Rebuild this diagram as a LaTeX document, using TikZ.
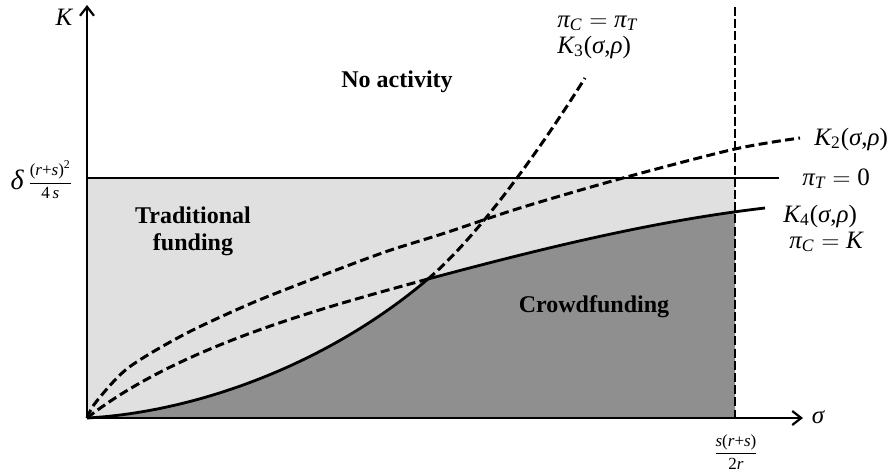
\documentclass[tikz,border=0pt]{standalone}
\usepackage{amsmath}
\usepackage{fontspec}
\setmainfont{Liberation Serif}
\usetikzlibrary{arrows.meta}
\definecolor{lightfill}{RGB}{224,224,224}
\definecolor{darkfill}{RGB}{143,143,143}
\newcommand\ti[1]{\text{\itshape #1}}
\newcommand\tu[1]{\text{\upshape #1}}
\begin{document}
\begin{tikzpicture}[x=0.5pt,y=-0.5pt,
  axisline/.style={line width=1pt,-{Straight Barb[length=4.5pt,width=7pt,line width=1.1pt]}},
  curvedash/.style={line width=1.5pt,dash pattern=on 4.5pt off 2.2pt},
  vdash/.style={line width=1.1pt,dash pattern=on 4.5pt off 1.6pt},
  solidcurve/.style={line width=1.4pt},
  thinline/.style={line width=1pt},
  region/.style={font=\fontsize{12}{13.5}\selectfont\bfseries,align=center,inner sep=0pt},
  mathlab/.style={font=\fontsize{12.5}{15}\selectfont,inner sep=0pt},
  fraclab/.style={font=\fontsize{8.5}{10}\selectfont,inner sep=0pt}]
\useasboundingbox (0,0) rectangle (893,471);
% key points
\coordinate (O) at (87,418);
\coordinate (Ytop) at (87,5);
\coordinate (Xend) at (803,418);
\coordinate (Vtop) at (735,7);
\coordinate (Vbot) at (735,418);
\coordinate (Kink) at (428,279);
\coordinate (K3end) at (585,78);
\coordinate (K4end) at (765,208);
\coordinate (PiL) at (87,178);
\coordinate (PiR) at (779,178);
% light region
\fill[lightfill] (PiL) rectangle (Vbot);
% dark region
\begin{scope}
  \clip (0,0) rectangle (735,471);
  \fill[darkfill] (O) .. controls (197,412) and (328,364) .. (Kink)
     .. controls (540,249) and (653,221) .. (K4end) -- (765,418) -- cycle;
\end{scope}
% pi_T = 0 line
\draw[thinline] (PiL) -- (PiR);
% K3 convex curve: solid to kink, dashed after
\draw[solidcurve] (O) .. controls (197,412) and (328,364) .. (Kink);
\draw[curvedash] (Kink) .. controls (488,228) and (560,118) .. (K3end);
% K4 concave curve: dashed to kink, solid after
\draw[curvedash] (O) .. controls (180,345) and (330,306) .. (Kink);
\draw[solidcurve] (Kink) .. controls (540,249) and (653,221) .. (K4end);
% K2 curve
\draw[curvedash] plot[smooth,tension=0.5] coordinates {(87,418) (96,402) (128,368) (185,334) (252,303) (318,277) (385,252) (445,233) (520,208) (623,178) (735,149) (800,138)};
% vertical dashed line
\draw[vdash] (Vtop) -- (Vbot);
% axes
\draw[axisline] (O) -- (Ytop);
\draw[axisline] (O) -- (Xend);
% axis labels
\node[mathlab] (klab) at (64,17) {$\ti{K}$};
\node[mathlab] (siglab) at (818,417) {$\ti{σ}$};
\node[mathlab,anchor=east] (dlab) at (24,180) {\fontsize{14}{16}\selectfont\itshape δ};
\node[fraclab,anchor=west] (dfrac) at (27,180) {$\dfrac{\tu{(}\ti{r}\tu{+}\ti{s}\tu{)}^{\tu{2}}}{\tu{4}\,\ti{s}}$};
\node[fraclab] (slab) at (736,452) {$\dfrac{\ti{s}\tu{(}\ti{r}\tu{+}\ti{s}\tu{)}}{\tu{2}\ti{r}}$};
% curve labels
\node[mathlab,anchor=base west] (l1) at (557,27) {$\ti{π}_{\ti{C}}=\ti{π}_{\ti{T}}$};
\node[mathlab,anchor=base west] (l2) at (557,53) {$\ti{K}_{\tu{3}}\tu{(}\ti{σ}\tu{,}\ti{ρ}\tu{)}$};
\node[mathlab,anchor=base west] (l3) at (814,145) {$\ti{K}_{\tu{2}}\tu{(}\ti{σ}\tu{,}\ti{ρ}\tu{)}$};
\node[mathlab,anchor=base west] (l4) at (802,185) {$\ti{π}_{\ti{T}}=\tu{0}$};
\node[mathlab,anchor=base west] (l5) at (783,222) {$\ti{K}_{\tu{4}}\tu{(}\ti{σ}\tu{,}\ti{ρ}\tu{)}$};
\node[mathlab,anchor=base west] (l6) at (789,248) {$\ti{π}_{\ti{C}}=\ti{K}$};
% region labels
\node[region,anchor=base] (noact) at (397,87) {No activity};
\node[region] (trad) at (193,231) {Traditional\\funding};
\node[region,anchor=base] (crowd) at (594,312) {Crowdfunding};
\end{tikzpicture}
\end{document}
